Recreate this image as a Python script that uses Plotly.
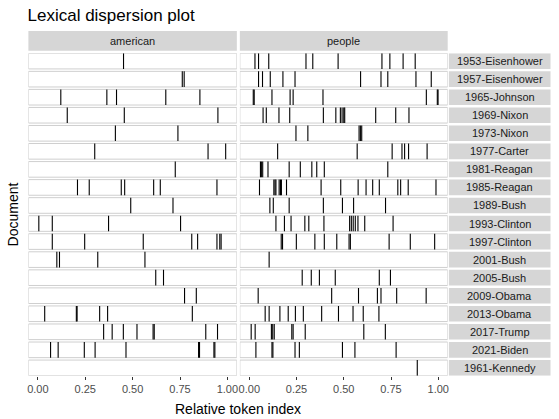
import plotly.graph_objects as go

# documents, top to bottom (as in the facet rows)
documents = ["1953-Eisenhower", "1957-Eisenhower", "1965-Johnson", "1969-Nixon",
             "1973-Nixon", "1977-Carter", "1981-Reagan", "1985-Reagan", "1989-Bush",
             "1993-Clinton", "1997-Clinton", "2001-Bush", "2005-Bush", "2009-Obama",
             "2013-Obama", "2017-Trump", "2021-Biden", "1961-Kennedy"]

keywords = ["american", "people"]

# relative token index of every hit, one list per document
american = [
    [0.452],
    [0.762, 0.772],
    [0.121, 0.364, 0.415, 0.675, 0.855],
    [0.155, 0.456, 0.950],
    [0.409, 0.739],
    [0.300, 0.898, 0.991],
    [0.725],
    [0.209, 0.271, 0.440, 0.458, 0.611, 0.646, 0.945],
    [0.490, 0.713],
    [0.005, 0.076, 0.373, 0.753],
    [0.076, 0.247, 0.556, 0.812, 0.843, 0.945, 0.960, 0.967],
    [0.100, 0.114, 0.316, 0.565],
    [0.622, 0.663],
    [0.774, 0.836],
    [0.036, 0.203, 0.207, 0.326, 0.368, 0.815],
    [0.347, 0.392, 0.451, 0.523, 0.608, 0.614, 0.886, 0.948],
    [0.067, 0.107, 0.245, 0.302, 0.465, 0.848, 0.853, 0.929, 0.934],
    [],
]

people = [
    [0.030, 0.049, 0.103, 0.300, 0.336, 0.470, 0.702, 0.744, 0.814, 0.878],
    [0.049, 0.070, 0.111, 0.178, 0.242, 0.589, 0.697, 0.733, 0.882, 0.963],
    [0.021, 0.026, 0.120, 0.216, 0.232, 0.390, 0.937, 0.995, 0.999],
    [0.073, 0.090, 0.157, 0.214, 0.392, 0.458, 0.482, 0.491, 0.500, 0.505, 0.669, 0.775, 0.845],
    [0.247, 0.310, 0.581, 0.588, 0.595],
    [0.150, 0.571, 0.756, 0.808, 0.822, 0.843, 0.941],
    [0.059, 0.064, 0.071, 0.099, 0.211, 0.270, 0.331, 0.357, 0.397, 0.733],
    [0.054, 0.130, 0.136, 0.141, 0.158, 0.165, 0.170, 0.197, 0.380, 0.484, 0.576,
     0.618, 0.653, 0.688, 0.786, 0.801, 0.841, 0.988],
    [0.109, 0.127, 0.211, 0.392, 0.493, 0.552, 0.721],
    [0.141, 0.186, 0.221, 0.294, 0.315, 0.395, 0.531, 0.540, 0.550, 0.561, 0.575, 0.611, 0.761],
    [0.169, 0.176, 0.249, 0.347, 0.397, 0.463, 0.528, 0.535, 0.740, 0.852, 0.981],
    [0.105],
    [0.280, 0.328, 0.371, 0.455, 0.688, 0.747],
    [0.047, 0.436, 0.578, 0.678, 0.697, 0.780, 0.936],
    [0.084, 0.105, 0.162, 0.206, 0.244, 0.286, 0.383, 0.472, 0.549, 0.603, 0.686],
    [0.010, 0.031, 0.117, 0.124, 0.132, 0.225, 0.232, 0.296, 0.606, 0.720],
    [0.035, 0.120, 0.125, 0.242, 0.265, 0.493, 0.559, 0.777],
    [0.889],
]

x_ticks = [0, 0.25, 0.5, 0.75, 1]
x_ticktext = ["0.00", "0.25", "0.50", "0.75", "1.00"]

W, H = 559, 419
FONT = "Liberation Sans, Arial, sans-serif"
half = 0.433     # half height of a row panel in row units

def px_x(p):
    return p / W

def px_y(p):
    return 1 - p / H

fig = go.Figure()

for col, hits in enumerate([american, people]):
    xs, ys = [], []
    for i, row in enumerate(hits):
        for v in row:
            xs += [v, v, None]
            ys += [i - half, i + half, None]
    fig.add_trace(go.Scatter(x=xs, y=ys, mode="lines", xaxis="x" if col == 0 else "x2",
                             yaxis="y", line=dict(color="black", width=1.1),
                             hoverinfo="skip", showlegend=False))

shapes, annotations = [], []
for xref in ["x", "x2"]:
    for i in range(len(documents)):
        shapes.append(dict(type="rect", xref=xref, yref="y", x0=-0.05, x1=1.05,
                           y0=i - half, y1=i + half, fillcolor="white",
                           line=dict(color="#CFCFCF", width=1), layer="below"))

# facet strips on the right (documents)
for i, doc in enumerate(documents):
    shapes.append(dict(type="rect", xref="paper", yref="y", x0=px_x(449.5), x1=px_x(551.5),
                       y0=i - half, y1=i + half, fillcolor="#D6D6D6", line=dict(width=0)))
    annotations.append(dict(text=doc, xref="paper", yref="y", x=px_x(500.5), y=i,
                            xanchor="center", yanchor="middle", showarrow=False,
                            font=dict(size=11, color="#1A1A1A", family=FONT)))

# facet strips on top (keywords)
col_px = [(27.5, 236.7), (239.7, 448.3)]
for (a, b), kw in zip(col_px, keywords):
    shapes.append(dict(type="rect", xref="paper", yref="paper", x0=px_x(a), x1=px_x(b),
                       y0=px_y(50.8), y1=px_y(31), fillcolor="#D6D6D6", line=dict(width=0)))
    annotations.append(dict(text=kw, xref="paper", yref="paper", x=px_x((a + b) / 2),
                            y=px_y(41), xanchor="center", yanchor="middle", showarrow=False,
                            font=dict(size=11, color="#1A1A1A", family=FONT)))

annotations.append(dict(text="Relative token index", xref="paper", yref="paper",
                        x=px_x(238), y=px_y(409), xanchor="center", yanchor="middle",
                        showarrow=False, font=dict(size=14, color="black", family=FONT)))
annotations.append(dict(text="Document", xref="paper", yref="paper", textangle=-90,
                        x=px_x(12), y=px_y(214.5), xanchor="center", yanchor="middle",
                        showarrow=False, font=dict(size=14, color="black", family=FONT)))

axis_common = dict(range=[-0.05, 1.05], tickvals=x_ticks, ticktext=x_ticktext,
                   showgrid=False, zeroline=False, showline=False, ticks="outside",
                   ticklen=3, tickwidth=1, tickcolor="#333333", anchor="y",
                   tickfont=dict(size=11, color="#4D4D4D", family=FONT))

fig.update_layout(
    width=W, height=H,
    margin=dict(l=0, r=0, t=0, b=0),
    paper_bgcolor="white", plot_bgcolor="white",
    font=dict(family=FONT),
    title=dict(text="Lexical dispersion plot", x=px_x(27.5), xanchor="left",
               y=px_y(15), yanchor="middle", font=dict(size=17, color="black", family=FONT)),
    xaxis=dict(domain=[px_x(col_px[0][0]), px_x(col_px[0][1])], **axis_common),
    xaxis2=dict(domain=[px_x(col_px[1][0]), px_x(col_px[1][1])], **axis_common),
    yaxis=dict(domain=[px_y(375.7), px_y(53.3)], range=[len(documents) - 1 + half, -half],
               showticklabels=False, showgrid=False, zeroline=False, ticks=""),
    shapes=shapes,
    annotations=annotations,
)

# drop the default 8px body margin so the figure sits at the window's corner
fig.write_html("out.html", config={"displayModeBar": False},
               post_script="document.body.style.margin = '0px';")
